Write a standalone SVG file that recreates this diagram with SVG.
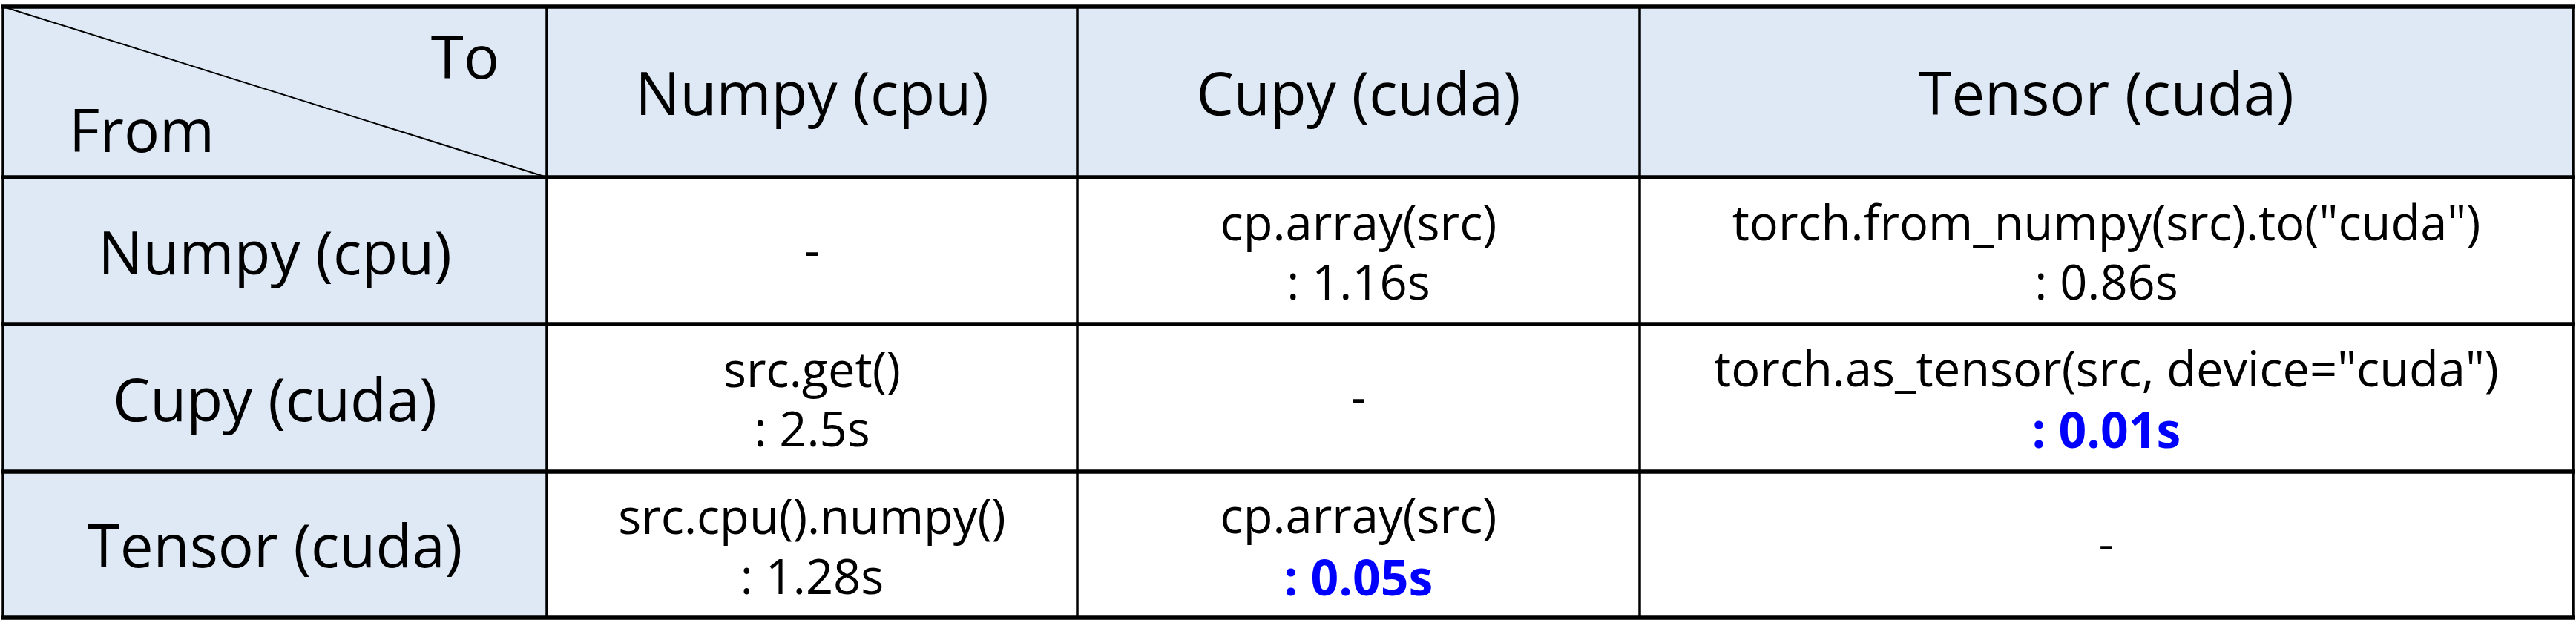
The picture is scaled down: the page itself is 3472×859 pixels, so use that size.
<svg xmlns="http://www.w3.org/2000/svg" width="3472" height="859" viewBox="0 0 3472 859">
<style>
.hdr{fill:#DEE9F5}
.big{font-family:"Open Sans","Noto Sans",sans-serif;font-size:80px;fill:#000;text-anchor:middle}
.txt{font-family:"Open Sans","Noto Sans",sans-serif;font-size:65px;fill:#000;text-anchor:middle}
.blue{font-family:"Open Sans","Noto Sans",sans-serif;font-size:66px;font-weight:bold;fill:#0000FF;text-anchor:middle}
.hl{stroke:#000;stroke-width:5.5}
.vl{stroke:#000;stroke-width:3.5}
</style>
<rect width="3472" height="859" fill="#FFFFFF"/>
<g id="cell-corner">
<rect class="hdr" x="4" y="9" width="733" height="230"/>
<line x1="4" y1="9" x2="737" y2="239" stroke="#000" stroke-width="2"/>
<text class="big" x="673" y="106" style="text-anchor:end">To</text>
<text class="big" x="93" y="205" style="text-anchor:start">From</text>
</g>
<g id="head-numpy"><rect class="hdr" x="737" y="9" width="715" height="230"/><text class="big" x="1094.5" y="155">Numpy (cpu)</text></g>
<g id="head-cupy"><rect class="hdr" x="1452" y="9" width="758" height="230"/><text class="big" x="1831" y="155">Cupy (cuda)</text></g>
<g id="head-tensor"><rect class="hdr" x="2210" y="9" width="1258" height="230"/><text class="big" x="2839" y="155">Tensor (cuda)</text></g>
<g id="row-numpy"><rect class="hdr" x="4" y="239" width="733" height="198"/><text class="big" x="370.5" y="370">Numpy (cpu)</text></g>
<g id="row-cupy"><rect class="hdr" x="4" y="437" width="733" height="199"/><text class="big" x="370.5" y="568">Cupy (cuda)</text></g>
<g id="row-tensor"><rect class="hdr" x="4" y="636" width="733" height="197"/><text class="big" x="370.5" y="765">Tensor (cuda)</text></g>
<g id="c-numpy-numpy"><text class="txt" x="1094.5" y="360">-</text></g>
<g id="c-numpy-cupy"><text class="txt" x="1831" y="324">cp.array(src)</text><text class="txt" x="1831" y="404">: 1.16s</text></g>
<g id="c-numpy-tensor"><text class="txt" x="2839" y="324">torch.from_numpy(src).to("cuda")</text><text class="txt" x="2839" y="404">: 0.86s</text></g>
<g id="c-cupy-numpy"><text class="txt" x="1094.5" y="522">src.get()</text><text class="txt" x="1094.5" y="602">: 2.5s</text></g>
<g id="c-cupy-cupy"><text class="txt" x="1831" y="558">-</text></g>
<g id="c-cupy-tensor"><text class="txt" x="2839" y="521">torch.as_tensor(src, device="cuda")</text><text class="blue" x="2839" y="604">: 0.01s</text></g>
<g id="c-tensor-numpy"><text class="txt" x="1094.5" y="720">src.cpu().numpy()</text><text class="txt" x="1094.5" y="801">: 1.28s</text></g>
<g id="c-tensor-cupy"><text class="txt" x="1831" y="719">cp.array(src)</text><text class="blue" x="1831" y="803">: 0.05s</text></g>
<g id="c-tensor-tensor"><text class="txt" x="2839" y="756">-</text></g>
<g id="connectors">
<line class="vl" x1="737" y1="9" x2="737" y2="833"/>
<line class="vl" x1="1452" y1="9" x2="1452" y2="833"/>
<line class="vl" x1="2210" y1="9" x2="2210" y2="833"/>
<line class="vl" x1="4" y1="9" x2="4" y2="833"/>
<line class="vl" x1="3468" y1="9" x2="3468" y2="833"/>
<line class="hl" x1="2" y1="9" x2="3470" y2="9"/>
<line class="hl" x1="2" y1="239" x2="3470" y2="239"/>
<line class="hl" x1="2" y1="437" x2="3470" y2="437"/>
<line class="hl" x1="2" y1="636" x2="3470" y2="636"/>
<line class="hl" x1="2" y1="833" x2="3470" y2="833"/>
</g>
</svg>
